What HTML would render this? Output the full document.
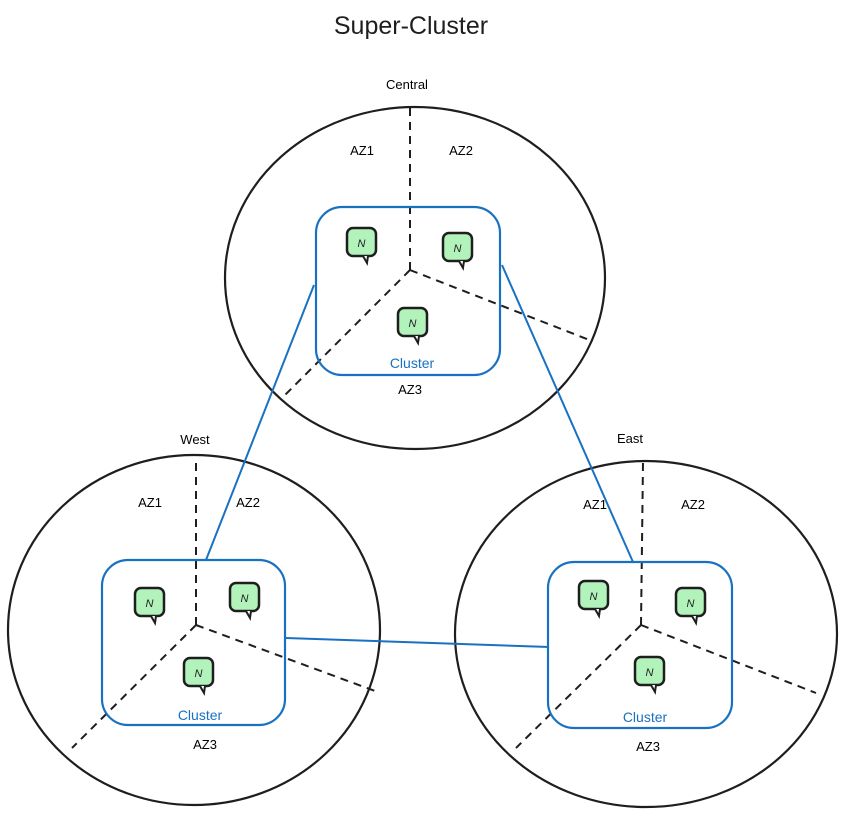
<!DOCTYPE html>
<html><head><meta charset="utf-8"><style>
html,body{margin:0;padding:0;background:#fff;}
svg{display:block;}
text{font-family:"Liberation Sans",sans-serif;}
</style></head><body>
<svg width="847" height="818" viewBox="0 0 847 818" xmlns="http://www.w3.org/2000/svg">
<defs>
<g id="n">
<rect x="0" y="0" width="29" height="28" rx="6" fill="#b2f2bb" stroke="#1e1e1e" stroke-width="2.5"/>
<path d="M16 28 L20 35 L21 28" fill="#fff" stroke="#1e1e1e" stroke-width="2"/>
<text x="14.5" y="19" font-size="11" font-style="italic" text-anchor="middle" fill="#1e1e1e">N</text>
</g>
</defs>
<text x="411" y="34" font-size="25" text-anchor="middle" fill="#1e1e1e">Super-Cluster</text>

<!-- Central -->
<ellipse cx="415" cy="278" rx="190" ry="171" fill="none" stroke="#1e1e1e" stroke-width="2.2"/>
<g stroke="#1e1e1e" stroke-width="2" stroke-dasharray="8 6" fill="none">
<line x1="410" y1="270" x2="410" y2="106"/><line x1="410" y1="270" x2="592" y2="341"/><line x1="410" y1="270" x2="284" y2="396"/>
</g>
<rect x="316" y="207" width="184" height="168" rx="26" fill="none" stroke="#1971c2" stroke-width="2.2"/>
<use href="#n" x="347" y="228"/><use href="#n" x="443" y="233"/><use href="#n" x="398" y="308"/>
<text x="407" y="89" font-size="13" text-anchor="middle">Central</text>
<text x="362" y="155" font-size="13" text-anchor="middle">AZ1</text>
<text x="461" y="155" font-size="13" text-anchor="middle">AZ2</text>
<text x="410" y="394" font-size="13" text-anchor="middle">AZ3</text>
<text x="412" y="368" font-size="14" text-anchor="middle" fill="#1971c2">Cluster</text>

<!-- West -->
<ellipse cx="194" cy="630" rx="186" ry="175" fill="none" stroke="#1e1e1e" stroke-width="2.2"/>
<g stroke="#1e1e1e" stroke-width="2" stroke-dasharray="8 6" fill="none">
<line x1="196" y1="625" x2="196" y2="460"/><line x1="196" y1="625" x2="375" y2="691"/><line x1="196" y1="625" x2="72" y2="748"/>
</g>
<rect x="102" y="560" width="183" height="165" rx="26" fill="none" stroke="#1971c2" stroke-width="2.2"/>
<use href="#n" x="135" y="588"/><use href="#n" x="230" y="583"/><use href="#n" x="184" y="658"/>
<text x="195" y="444" font-size="13" text-anchor="middle">West</text>
<text x="150" y="507" font-size="13" text-anchor="middle">AZ1</text>
<text x="248" y="507" font-size="13" text-anchor="middle">AZ2</text>
<text x="205" y="749" font-size="13" text-anchor="middle">AZ3</text>
<text x="200" y="720" font-size="14" text-anchor="middle" fill="#1971c2">Cluster</text>

<!-- East -->
<ellipse cx="646" cy="634" rx="191" ry="173" fill="none" stroke="#1e1e1e" stroke-width="2.2"/>
<g stroke="#1e1e1e" stroke-width="2" stroke-dasharray="8 6" fill="none">
<line x1="641" y1="625" x2="643" y2="462"/><line x1="641" y1="625" x2="816" y2="693"/><line x1="641" y1="625" x2="516" y2="748"/>
</g>
<rect x="548" y="562" width="184" height="166" rx="26" fill="none" stroke="#1971c2" stroke-width="2.2"/>
<use href="#n" x="579" y="581"/><use href="#n" x="676" y="588"/><use href="#n" x="635" y="657"/>
<text x="630" y="443" font-size="13" text-anchor="middle">East</text>
<text x="595" y="509" font-size="13" text-anchor="middle">AZ1</text>
<text x="693" y="509" font-size="13" text-anchor="middle">AZ2</text>
<text x="648" y="751" font-size="13" text-anchor="middle">AZ3</text>
<text x="645" y="722" font-size="14" text-anchor="middle" fill="#1971c2">Cluster</text>

<!-- links -->
<g stroke="#1971c2" stroke-width="2" fill="none">
<line x1="314" y1="285" x2="206" y2="560"/>
<line x1="502" y1="265" x2="633" y2="562"/>
<line x1="286" y1="638" x2="549" y2="647"/>
</g>
</svg>
</body></html>
